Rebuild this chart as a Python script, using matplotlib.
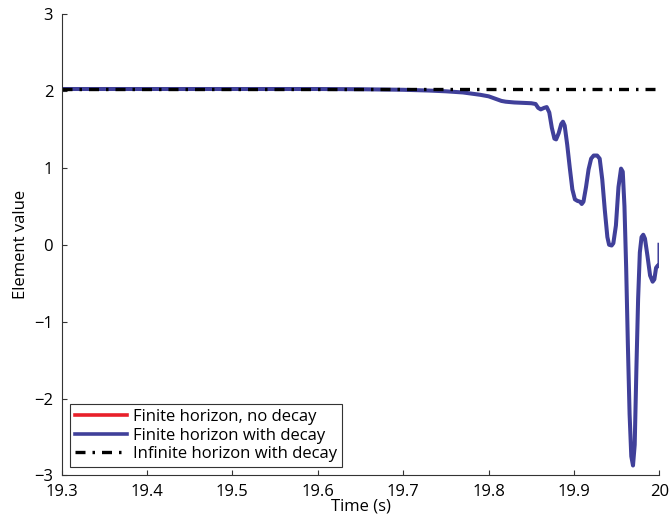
import matplotlib
matplotlib.use("Agg")
import matplotlib.pyplot as plt

# ---- data ----
time_s = [19.30, 19.60, 19.65, 19.70, 19.73, 19.75, 19.77, 19.79, 19.80, 19.805,
          19.81, 19.815, 19.82, 19.83, 19.84, 19.85, 19.855, 19.858, 19.861, 19.865,
          19.868, 19.871, 19.874, 19.877, 19.879, 19.882, 19.885, 19.887, 19.889, 19.892,
          19.895, 19.898, 19.901, 19.904, 19.907, 19.909, 19.911, 19.914, 19.917, 19.920,
          19.923, 19.927, 19.930, 19.933, 19.936, 19.939, 19.941, 19.944, 19.946, 19.949,
          19.952, 19.955, 19.957, 19.959, 19.961, 19.963, 19.965, 19.967, 19.969, 19.971,
          19.973, 19.975, 19.977, 19.979, 19.981, 19.983, 19.986, 19.989, 19.992, 19.994,
          19.996, 19.998, 19.9995, 20.0, 20.0]
with_decay = [2.025, 2.025, 2.022, 2.015, 2.005, 1.995, 1.98, 1.95, 1.93, 1.91,
              1.89, 1.87, 1.86, 1.85, 1.845, 1.84, 1.83, 1.78, 1.76, 1.78,
              1.79, 1.72, 1.52, 1.38, 1.37, 1.45, 1.57, 1.60, 1.55, 1.30,
              1.00, 0.72, 0.59, 0.57, 0.56, 0.53, 0.56, 0.75, 0.98, 1.12,
              1.16, 1.16, 1.12, 0.85, 0.45, 0.10, 0.00, -0.01, 0.02, 0.25,
              0.75, 0.99, 0.95, 0.50, -0.30, -1.30, -2.20, -2.75, -2.87, -2.60,
              -1.60, -0.70, -0.10, 0.10, 0.13, 0.08, -0.15, -0.40, -0.48, -0.45,
              -0.30, -0.27, -0.28, -0.26, 0.0]
no_decay = list(with_decay)  # hidden beneath the blue curve
infinite_time = [19.30, 20.0]
infinite_value = [2.025, 2.025]

labels = ["Finite horizon, no decay", "Finite horizon with decay",
          "Infinite horizon with decay"]
x_ticks = [19.3, 19.4, 19.5, 19.6, 19.7, 19.8, 19.9, 20]
x_ticklabels = ["19.3", "19.4", "19.5", "19.6", "19.7", "19.8", "19.9", "20"]
y_ticks = [-3, -2, -1, 0, 1, 2, 3]
y_ticklabels = ["\u22123", "\u22122", "\u22121", "0", "1", "2", "3"]

plt.rcParams['font.family'] = ['Open Sans', 'DejaVu Sans']
plt.rcParams['font.size'] = 12

fig = plt.figure(figsize=(6.7, 5.25), dpi=100)
ax = fig.add_axes([0.0918, 0.0943, 0.8925, 0.879])

ax.plot(time_s, no_decay, color='#E8202A', lw=1.6, label=labels[0])
ax.plot(time_s, with_decay, color='#40409A', lw=2.9, label=labels[1])
ax.plot(infinite_time, infinite_value, color='black', lw=2.4,
        dashes=(3.0, 2.1, 0.75, 2.1), label=labels[2])

ax.set_xlim(19.3, 20.0)
ax.set_ylim(-3, 3)
ax.set_xticks(x_ticks)
ax.set_xticklabels(x_ticklabels)
ax.set_yticks(y_ticks)
ax.set_yticklabels(y_ticklabels)
ax.set_xlabel("Time (s)", labelpad=-1)
ax.set_ylabel("Element value", labelpad=4)

for s in ['top', 'right']:
    ax.spines[s].set_visible(False)
for s in ['left', 'bottom']:
    ax.spines[s].set_color('#333333')
    ax.spines[s].set_linewidth(0.8)
ax.tick_params(direction='in', length=3.5, width=0.8, color='#333333', pad=6,
               labelsize=12)

leg = ax.legend(loc='lower left', frameon=True, fancybox=False, framealpha=1,
                edgecolor='#333333', fontsize=12, handlelength=3.1,
                handletextpad=0.4, labelspacing=0.15, borderpad=0.3,
                borderaxespad=0.5)
leg.get_frame().set_linewidth(0.8)
leg.legend_handles[0].set_linewidth(2.6)
leg.legend_handles[1].set_linewidth(2.6)

fig.savefig("out.png", dpi=100)
